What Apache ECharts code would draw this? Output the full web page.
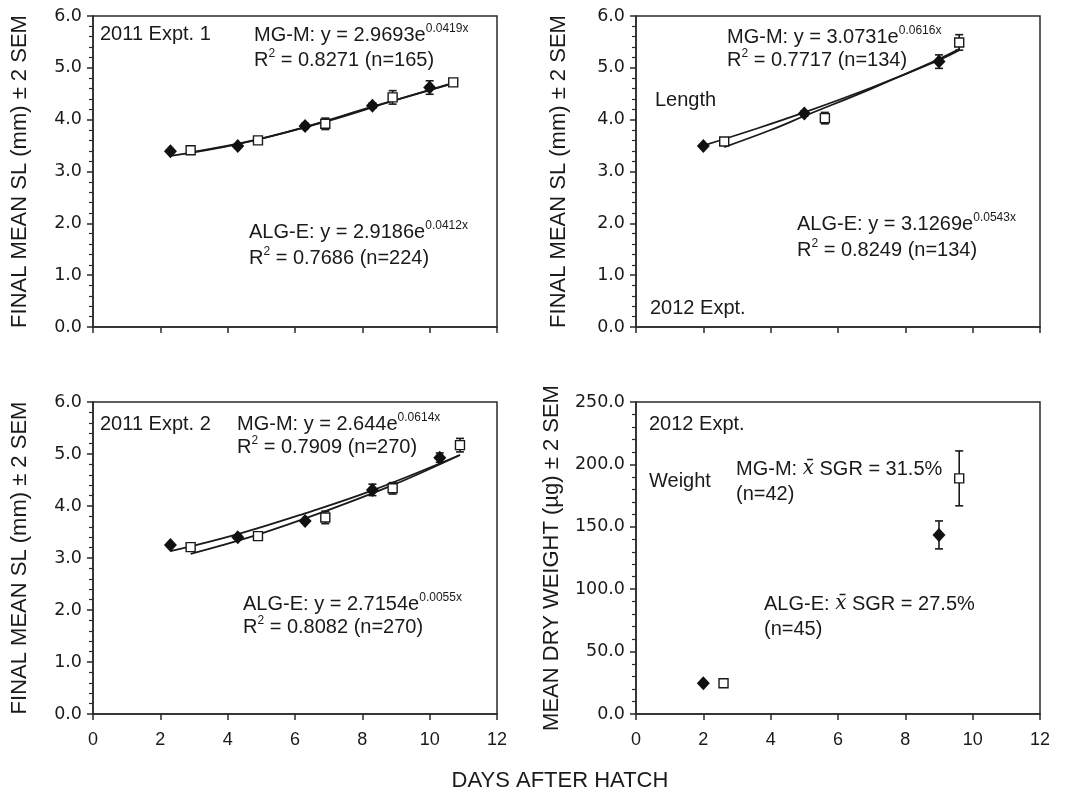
<!DOCTYPE html>
<html>
<head>
<meta charset="utf-8">
<script src="https://cdn.jsdelivr.net/npm/echarts@6/dist/echarts.min.js"></script>
<style>
  html, body { margin: 0; padding: 0; background: #fff; }
  #main { width: 1066px; height: 798px; }
</style>
</head>
<body>
<div id="main"></div>
<script>
// 2011 Expt. 1 - diamonds (ALG-E) and open squares (MG-M)
var p1AlgX = [2.3, 4.3, 6.3, 8.3, 10.0];
var p1AlgY = [3.39, 3.49, 3.88, 4.27, 4.62];
var p1AlgErr = [0, 0, 0.05, 0.05, 0.13];
var p1MgX = [2.9, 4.9, 6.9, 8.9, 10.7];
var p1MgY = [3.41, 3.60, 3.92, 4.43, 4.72];
var p1MgErr = [0, 0, 0.11, 0.13, 0.07];
// trend lines
var p1AlgFitX = [2.3, 4.3, 6.3, 8.3, 10.7];
var p1AlgFitY = [3.30, 3.53, 3.86, 4.25, 4.70];
var p1MgFitX = [2.9, 4.9, 6.9, 8.9, 10.7];
var p1MgFitY = [3.37, 3.62, 3.96, 4.36, 4.71];

// 2012 Expt. length
var p2AlgX = [2.0, 5.0, 9.0];
var p2AlgY = [3.49, 4.12, 5.12];
var p2AlgErr = [0, 0.05, 0.13];
var p2MgX = [2.62, 5.61, 9.6];
var p2MgY = [3.58, 4.03, 5.49];
var p2MgErr = [0.04, 0.11, 0.15];
var p2AlgFitX = [2.0, 3.5, 5.0, 7.0, 9.0, 9.6];
var p2AlgFitY = [3.50, 3.81, 4.14, 4.62, 5.15, 5.34];
var p2MgFitX = [2.62, 4.0, 5.0, 7.0, 9.0, 9.6];
var p2MgFitY = [3.47, 3.80, 4.07, 4.60, 5.17, 5.36];

// 2011 Expt. 2
var p3AlgX = [2.3, 4.3, 6.3, 8.3, 10.3];
var p3AlgY = [3.25, 3.40, 3.71, 4.31, 4.93];
var p3AlgErr = [0, 0.04, 0, 0.11, 0.09];
var p3MgX = [2.9, 4.9, 6.9, 8.9, 10.9];
var p3MgY = [3.21, 3.42, 3.78, 4.34, 5.17];
var p3MgErr = [0.04, 0, 0.12, 0.11, 0.13];
var p3AlgFitX = [2.3, 4.3, 6.3, 8.3, 10.9];
var p3AlgFitY = [3.13, 3.46, 3.86, 4.30, 4.98];
var p3MgFitX = [2.9, 4.9, 6.9, 8.9, 10.9];
var p3MgFitY = [3.08, 3.45, 3.90, 4.40, 4.98];

// 2012 Expt. weight
var p4AlgX = [2.0, 9.0];
var p4AlgY = [24.6, 143.5];
var p4AlgErr = [0, 11.2];
var p4MgX = [2.6, 9.6];
var p4MgY = [24.6, 188.8];
var p4MgErr = [0, 22];

var ink = '#1a1a1a';
var font = 'Liberation Sans, Arial, sans-serif';

function pts(xs, ys) {
    return xs.map(function (x, i) { return [x, ys[i]]; });
}
function errs(xs, ys, es) {
    var out = [];
    xs.forEach(function (x, i) {
        if (es[i] > 0) out.push([x, ys[i] - es[i], ys[i] + es[i]]);
    });
    return out;
}

function renderErr(params, api) {
    var x = api.value(0);
    var top = api.coord([x, api.value(2)]);
    var bot = api.coord([x, api.value(1)]);
    var w = 4;
    var st = { stroke: ink, lineWidth: 1.6 };
    return {
        type: 'group',
        children: [
            { type: 'line', shape: { x1: top[0], y1: top[1], x2: bot[0], y2: bot[1] }, style: st },
            { type: 'line', shape: { x1: top[0] - w, y1: top[1], x2: top[0] + w, y2: top[1] }, style: st },
            { type: 'line', shape: { x1: bot[0] - w, y1: bot[1], x2: bot[0] + w, y2: bot[1] }, style: st }
        ]
    };
}

var grids = [
    { left: 93, top: 16, width: 404, height: 311 },
    { left: 636, top: 16, width: 404, height: 311 },
    { left: 93, top: 402, width: 404, height: 312 },
    { left: 636, top: 402, width: 404, height: 312 }
].map(function (g) {
    g.show = true;
    g.borderColor = '#2a2a2a';
    g.borderWidth = 1.5;
    return g;
});

var xAxes = [0, 1, 2, 3].map(function (i) {
    return {
        type: 'value', gridIndex: i, min: 0, max: 12, interval: 2,
        axisLine: { lineStyle: { color: '#2a2a2a', width: 1.5 } },
        axisTick: { inside: false, length: 6, lineStyle: { color: '#2a2a2a', width: 1.5 } },
        axisLabel: { show: i >= 2, color: ink, fontFamily: font, fontSize: 18, margin: 17 },
        splitLine: { show: false }
    };
});

var yName = 'FINAL MEAN SL (mm) ± 2 SEM';
var yAxes = [0, 1, 2, 3].map(function (i) {
    var w = i === 3;
    return {
        type: 'value', gridIndex: i, min: 0, max: w ? 250 : 6, interval: w ? 50 : 1,
        name: w ? 'MEAN DRY WEIGHT (µg) ± 2 SEM' : yName,
        nameLocation: 'middle', nameRotate: 90, nameGap: i % 2 === 0 ? 62 : (w ? 73 : 66),
        nameTextStyle: { color: ink, fontFamily: font, fontSize: 22 },
        axisLine: { show: true, lineStyle: { color: '#2a2a2a', width: 1.5 } },
        axisTick: { show: true, inside: false, length: 6, lineStyle: { color: '#2a2a2a', width: 1.5 } },
        minorTick: { show: true, splitNumber: 5, length: 4, lineStyle: { color: '#2a2a2a', width: 1.2 } },
        axisLabel: {
            color: ink, fontFamily: 'DejaVu Sans, sans-serif', fontSize: 17.5, margin: 11,
            formatter: function (v) { return v.toFixed(1); }
        },
        splitLine: { show: false }
    };
});

var series = [];
function addPanel(i, algX, algY, algErr, mgX, mgY, mgErr, algFit, mgFit) {
    if (algFit) {
        series.push({ type: 'line', xAxisIndex: i, yAxisIndex: i, data: algFit, smooth: 0.4,
            showSymbol: false, lineStyle: { color: ink, width: 1.8 }, z: 3 });
        series.push({ type: 'line', xAxisIndex: i, yAxisIndex: i, data: mgFit, smooth: 0.4,
            showSymbol: false, lineStyle: { color: ink, width: 1.8 }, z: 3 });
    }
    series.push({ type: 'custom', xAxisIndex: i, yAxisIndex: i, renderItem: renderErr,
        encode: { x: 0, y: [1, 2] }, data: errs(algX, algY, algErr).concat(errs(mgX, mgY, mgErr)), z: 4 });
    series.push({ name: 'MG-M', type: 'scatter', xAxisIndex: i, yAxisIndex: i, data: pts(mgX, mgY),
        symbol: 'rect', symbolSize: 9,
        itemStyle: { color: '#fff', borderColor: ink, borderWidth: 1.4, opacity: 1 }, z: 5 });
    series.push({ name: 'ALG-E', type: 'scatter', xAxisIndex: i, yAxisIndex: i, data: pts(algX, algY),
        symbol: 'diamond', symbolSize: [13, 14], itemStyle: { color: '#111', opacity: 1 }, z: 6 });
}
addPanel(0, p1AlgX, p1AlgY, p1AlgErr, p1MgX, p1MgY, p1MgErr, pts(p1AlgFitX, p1AlgFitY), pts(p1MgFitX, p1MgFitY));
addPanel(1, p2AlgX, p2AlgY, p2AlgErr, p2MgX, p2MgY, p2MgErr, pts(p2AlgFitX, p2AlgFitY), pts(p2MgFitX, p2MgFitY));
addPanel(2, p3AlgX, p3AlgY, p3AlgErr, p3MgX, p3MgY, p3MgErr, pts(p3AlgFitX, p3AlgFitY), pts(p3MgFitX, p3MgFitY));
addPanel(3, p4AlgX, p4AlgY, p4AlgErr, p4MgX, p4MgY, p4MgErr, null, null);

var rich = {
    n: { fontFamily: font, fontSize: 20, color: ink, lineHeight: 24, verticalAlign: 'bottom' },
    s: { fontFamily: font, fontSize: 12, color: ink, lineHeight: 24, verticalAlign: 'top', padding: [2, 0, 0, 0] },
    i: { fontFamily: 'DejaVu Serif, serif', fontStyle: 'italic', fontSize: 20, color: ink, lineHeight: 24, verticalAlign: 'bottom' }
};
function txt(x, y, text) {
    return { type: 'text', x: x, y: y, z: 10,
        style: { text: text, rich: rich, verticalAlign: 'middle', fill: ink, font: '20px ' + font } };
}

var graphics = [
    txt(100, 32, '{n|2011 Expt. 1}'),
    txt(254, 33, '{n|MG-M: y = 2.9693e}{s|0.0419x}'),
    txt(254, 58, '{n|R}{s|2}{n| = 0.8271 (n=165)}'),
    txt(249, 230, '{n|ALG-E: y = 2.9186e}{s|0.0412x}'),
    txt(249, 256, '{n|R}{s|2}{n| = 0.7686 (n=224)}'),

    txt(727, 35, '{n|MG-M: y = 3.0731e}{s|0.0616x}'),
    txt(727, 58, '{n|R}{s|2}{n| = 0.7717 (n=134)}'),
    txt(655, 98, '{n|Length}'),
    txt(797, 222, '{n|ALG-E: y = 3.1269e}{s|0.0543x}'),
    txt(797, 248, '{n|R}{s|2}{n| = 0.8249 (n=134)}'),
    txt(650, 306, '{n|2012 Expt.}'),

    txt(100, 422, '{n|2011 Expt. 2}'),
    txt(237, 422, '{n|MG-M: y = 2.644e}{s|0.0614x}'),
    txt(237, 445, '{n|R}{s|2}{n| = 0.7909 (n=270)}'),
    txt(243, 602, '{n|ALG-E: y = 2.7154e}{s|0.0055x}'),
    txt(243, 625, '{n|R}{s|2}{n| = 0.8082 (n=270)}'),

    txt(649, 422, '{n|2012 Expt.}'),
    txt(649, 479, '{n|Weight}'),
    txt(736, 467, '{n|MG-M: }{i|x\u0304}{n| SGR = 31.5%}'),
    txt(736, 492, '{n|(n=42)}'),
    txt(764, 602, '{n|ALG-E: }{i|x\u0304}{n| SGR = 27.5%}'),
    txt(764, 627, '{n|(n=45)}'),

    { type: 'text', x: 560, y: 781, z: 10,
      style: { text: 'DAYS AFTER HATCH', fill: ink, font: '22px ' + font, align: 'center', verticalAlign: 'middle' } }
];

var chart = echarts.init(document.getElementById('main'));
chart.setOption({
    animation: false,
    backgroundColor: '#fff',
    grid: grids,
    xAxis: xAxes,
    yAxis: yAxes,
    series: series,
    graphic: graphics
});
</script>
</body>
</html>
